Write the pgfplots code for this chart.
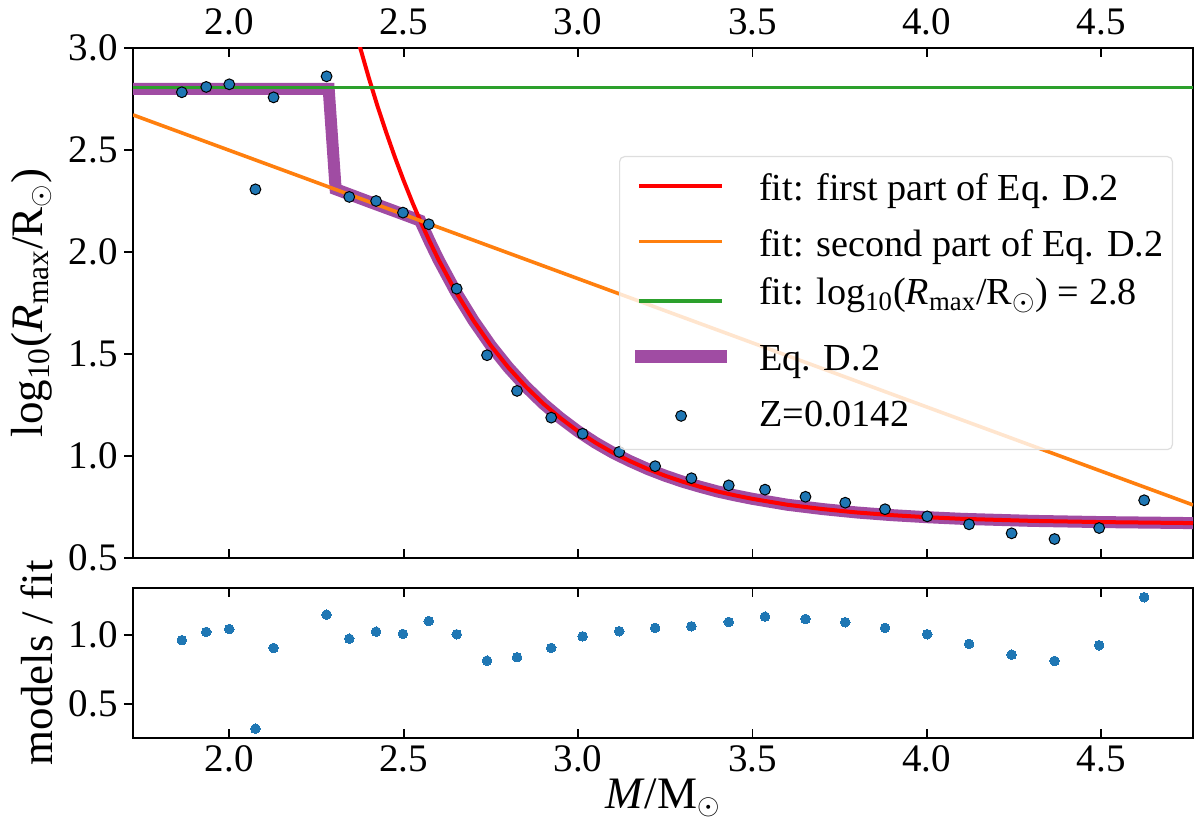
\documentclass[border=0pt]{standalone}
\usepackage{fontspec}
\setmainfont{Liberation Serif}
\usepackage{pgfplots}
\usepackage{pgfplotstable}
\pgfplotsset{compat=1.18}
\definecolor{c0}{HTML}{1F77B4}
\definecolor{corange}{HTML}{FF7F0E}
\definecolor{cgreen}{HTML}{2CA02C}
\definecolor{cpurple}{RGB}{160,76,163}

\pgfplotstableread{
M     logR   ratio
1.864 2.783  0.962
1.934 2.809  1.022
2.000 2.822  1.043
2.075 2.307  0.321
2.127 2.758  0.906
2.279 2.861  1.147
2.344 2.270  0.973
2.421 2.250  1.024
2.498 2.193  1.007
2.572 2.136  1.101
2.652 1.820  1.005
2.739 1.494  0.814
2.825 1.319  0.839
2.923 1.188  0.906
3.013 1.109  0.990
3.118 1.020  1.027
3.221 0.950  1.051
3.325 0.891  1.063
3.432 0.856  1.094
3.536 0.835  1.133
3.652 0.800  1.116
3.766 0.771  1.092
3.880 0.739  1.051
4.001 0.704  1.005
4.121 0.665  0.935
4.243 0.621  0.857
4.366 0.593  0.812
4.494 0.647  0.925
4.623 0.783  1.273
}\models

\pgfplotstableread{
M     y
2.370 3.033
2.400 2.854
2.425 2.715
2.450 2.586
2.475 2.464
2.500 2.350
2.525 2.243
2.550 2.143
2.575 2.050
2.600 1.962
2.650 1.803
2.700 1.664
2.750 1.541
2.800 1.434
2.850 1.340
2.900 1.257
2.950 1.185
3.000 1.121
3.050 1.065
3.100 1.016
3.150 0.974
3.200 0.936
3.250 0.903
3.300 0.874
3.350 0.849
3.400 0.826
3.450 0.807
3.500 0.790
3.600 0.761
3.700 0.740
3.800 0.723
3.900 0.710
4.000 0.700
4.100 0.692
4.200 0.687
4.300 0.682
4.500 0.676
4.763 0.671
}\redfit

\pgfplotstableread{
M     y
1.724 2.800
2.285 2.800
2.305 2.308
2.400 2.247
2.500 2.184
2.547 2.154
2.575 2.050
2.600 1.962
2.650 1.803
2.700 1.664
2.750 1.541
2.800 1.434
2.850 1.340
2.900 1.257
2.950 1.185
3.000 1.121
3.050 1.065
3.100 1.016
3.150 0.974
3.200 0.936
3.250 0.903
3.300 0.874
3.350 0.849
3.400 0.826
3.450 0.807
3.500 0.790
3.600 0.761
3.700 0.740
3.800 0.723
3.900 0.710
4.000 0.700
4.100 0.692
4.200 0.687
4.300 0.682
4.500 0.676
4.763 0.671
}\eqdtwo

\pgfplotsset{
  common/.style={
    scale only axis, width=530pt,
    xmin=1.724, xmax=4.763,
    xtick={2.0,2.5,3.0,3.5,4.0,4.5},
    xtick align=inside, ytick align=outside,
    ytick pos=left,
    major tick length=4.5pt,
    every tick/.style={black, line width=0.9pt},
    axis line style={line width=1.1pt},
    tick label style={font=\fontsize{19.5}{22}\selectfont},
    label style={font=\fontsize{22.5}{26}\selectfont},
    /pgf/number format/.cd, fixed, fixed zerofill, precision=1, assume math mode=true, /pgfplots/.cd,
    yticklabel style={inner sep=0pt, xshift=-3pt},
  },
  legred/.style={legend image code/.code={\draw[red, line width=2pt] (0pt,7.15pt) -- (41.35pt,7.15pt);}},
  legorange/.style={legend image code/.code={\draw[corange, line width=1.8pt] (0pt,7.5pt) -- (41.35pt,7.5pt);}},
  leggreen/.style={legend image code/.code={\draw[cgreen, line width=1.8pt] (0pt,1.85pt) -- (41.35pt,1.85pt);}},
  legpurple/.style={legend image code/.code={\draw[cpurple, line width=6.5pt] (-2.15pt,7.1pt) -- (43.65pt,7.1pt);}},
  legdots/.style={legend image code/.code={\path[mark=*, mark size=2.7pt, mark options={draw=black, fill=c0, line width=0.5pt, fill opacity=1, draw opacity=1}] plot coordinates {(20.85pt,5.35pt)};}},
}

\begin{document}
\begin{tikzpicture}
\useasboundingbox (0,0) rectangle (600pt,414.5pt);
\begin{axis}[
  common,
  at={(66.5pt,135.5pt)}, anchor=south west,
  height=255pt,
  ymin=0.5, ymax=3.0,
  ytick={0.5,1.0,1.5,2.0,2.5,3.0},
  xticklabel pos=upper, xtick pos=both,
  xticklabel style={inner sep=0pt, yshift=6.5pt},
  ylabel={log\textsubscript{10}(\textit{R}\textsubscript{max}/R\textsubscript{$\odot$})},
  ylabel style={at={(axis description cs:-0.0953,0.5)}, anchor=center},
  legend style={
    at={(1,1)}, anchor=north east, xshift=-10pt, yshift=-54pt,
    fill=white, fill opacity=0.8, text opacity=1, draw=black!13, line width=0.6pt,
    rounded corners=2.5pt,
    inner xsep=4.5pt, inner ysep=4pt,
    row sep=0pt, column sep=13pt,
    font=\fontsize{19.1}{22}\selectfont,
    cells={anchor=base west},
    nodes={inner sep=0pt},
  },
]
\addplot[cpurple, line width=6pt, forget plot] table[x=M, y=y] {\eqdtwo};
\addplot[red, line width=2pt, forget plot] table[x=M, y=y] {\redfit};
\addplot[corange, line width=1.8pt, forget plot] coordinates {(1.724,2.672) (4.763,0.760)};
\addplot[cgreen, line width=1.8pt, forget plot] coordinates {(1.724,2.806) (4.763,2.806)};
\addplot[only marks, mark=*, mark size=2.7pt, mark options={draw=black, fill=c0, line width=0.5pt}, forget plot] table[x=M, y=logR] {\models};

\addlegendimage{legred}
\addlegendentry[text height=18pt, text depth=7pt]{fit: first part of Eq. D.2}
\addlegendimage{legorange}
\addlegendentry[text height=21pt, text depth=7pt]{fit: second part of Eq. D.2}
\addlegendimage{leggreen}
\addlegendentry[text height=17pt, text depth=9pt]{fit: log\textsubscript{10}(\textit{R}\textsubscript{max}/R\textsubscript{$\odot$}) = 2.8}
\addlegendimage{legpurple}
\addlegendentry[text height=24pt, text depth=7pt]{Eq. D.2}
\addlegendimage{legdots}
\addlegendentry[text height=21pt, text depth=7.5pt]{Z=0.0142}
\end{axis}

\begin{axis}[
  common,
  at={(66.5pt,45.65pt)}, anchor=south west,
  height=74.85pt,
  ymin=0.256, ymax=1.34,
  ytick={0.5,1.0},
  xticklabel pos=lower, xtick pos=both,
  xticklabel style={inner sep=0pt, yshift=-3.65pt},
  xlabel={\textit{M}/M\textsubscript{$\odot$}},
  ylabel={models / fit},
  ylabel style={at={(axis description cs:-0.0906,0.5)}, anchor=center},
]
\addplot[only marks, mark=*, mark size=2.4pt, mark options={draw=c0, fill=c0, line width=0pt}] table[x=M, y=ratio] {\models};
\end{axis}
\end{tikzpicture}
\end{document}
